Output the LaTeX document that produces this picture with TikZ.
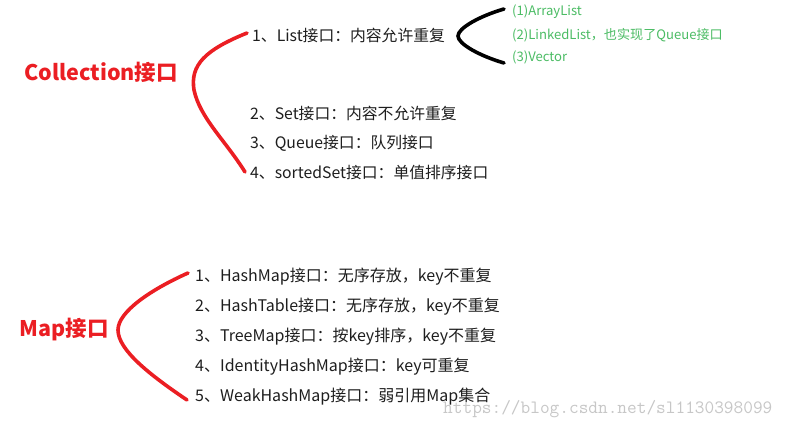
\documentclass[tikz,border=0pt]{standalone}
\usepackage{fontspec}
\setmainfont{Noto Sans CJK SC}
\definecolor{bigred}{RGB}{235,30,35}
\definecolor{itemgreen}{RGB}{75,188,100}
\definecolor{itemtext}{RGB}{30,30,30}
\tikzset{
  x=1pt, y=-1pt,
  title/.style={text=bigred, font=\fontsize{21.5}{21.5}\selectfont\bfseries, inner sep=0pt},
  citem/.style={anchor=west, text=itemtext, font=\fontsize{15.8}{15.8}\selectfont, inner sep=0pt},
  mitem/.style={anchor=west, text=itemtext, font=\fontsize{16}{16}\selectfont, inner sep=0pt},
  gitem/.style={anchor=west, text=itemgreen, font=\fontsize{13.1}{13.1}\selectfont, inner sep=0pt},
  redbrace/.style={draw=bigred, line width=3.6pt, line cap=round},
  blackbrace/.style={draw=black, line width=3.6pt, line cap=round},
  watermark/.style={anchor=west, text=black!22, font=\ttfamily\fontsize{18.8}{18.8}\selectfont, inner sep=0pt}
}
\begin{document}
\begin{tikzpicture}
\useasboundingbox[fill=white] (0,0) rectangle (795,430);
% Collection
\node[title] (coll) at (101,72) {Collection接口};
\node[citem] (c1) at (252,35) {1、List接口：内容允许重复};
\node[citem] (c2) at (250,113) {2、Set接口：内容不允许重复};
\node[citem] (c3) at (250,143) {3、Queue接口：队列接口};
\node[citem] (c4) at (250,172) {4、sortedSet接口：单值排序接口};
\coordinate (cb1) at (247,33);
\coordinate (cb2) at (245,172);
\draw[redbrace] (cb1) .. controls (205,50) and (190,65) .. (194,90) .. controls (200,118) and (225,140) .. (cb2);
% List sub-items
\node[gitem] (g1) at (512,12) {(1)ArrayList};
\node[gitem] (g2) at (512,35) {(2)LinkedList，也实现了Queue接口};
\node[gitem] (g3) at (512,57) {(3)Vector};
\coordinate (bb1) at (504,9);
\coordinate (bb2) at (504,63);
\draw[blackbrace] (bb1) .. controls (480,16) and (458,28) .. (458,36) .. controls (458,44) and (480,56) .. (bb2);
% Map
\node[title] (map) at (64,330) {Map接口};
\node[mitem] (m1) at (195,277) {1、HashMap接口：无序存放，key不重复};
\node[mitem] (m2) at (195,307) {2、HashTable接口：无序存放，key不重复};
\node[mitem] (m3) at (195,337) {3、TreeMap接口：按key排序，key不重复};
\node[mitem] (m4) at (195,367) {4、IdentityHashMap接口：key可重复};
\node[mitem] (m5) at (195,397) {5、WeakHashMap接口：弱引用Map集合};
\coordinate (mb1) at (188,273);
\coordinate (mb2) at (187,400);
\draw[redbrace] (mb1) .. controls (150,290) and (118,312) .. (118,330) .. controls (118,350) and (150,375) .. (mb2);
\node[watermark] (wm) at (443,409) {https://blog.csdn.net/sl1130398099};
\end{tikzpicture}
\end{document}
